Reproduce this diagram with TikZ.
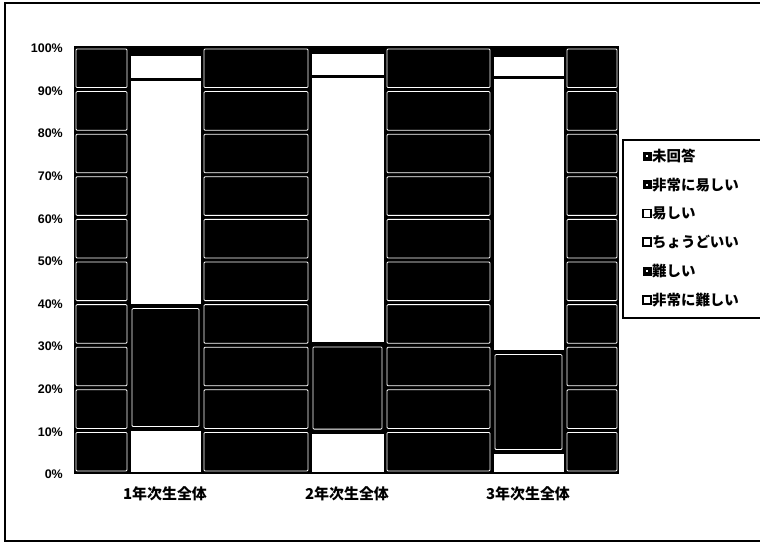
\documentclass[tikz,border=0pt]{standalone}
\usepackage{fontspec}
\setmainfont{Liberation Sans}
\newfontfamily\jp{Noto Sans CJK JP}
\newcommand{\tilecol}[2]{%
  \foreach \k in {0,...,9}{%
    \draw[tile] ({#1+2},{473-4.26*(\k+1)*10+2}) rectangle ({#2-2},{473-4.26*\k*10-2});
  }}
\newcommand{\wseg}[4]{\fill[white] ({#1+1.5},{473-4.26*#4+1.5}) rectangle ({#2-1.5},{473-4.26*#3-1.5});}
\newcommand{\bseg}[4]{\draw[white,line width=0.8bp,rounded corners=1bp] ({#1+3},{473-4.26*#4+3}) rectangle ({#2-3},{473-4.26*#3-3});}
\begin{document}
\begin{tikzpicture}[x=1bp,y=-1bp,
  tile/.style={draw=white,fill=black,line width=0.8bp,rounded corners=1bp},
  ylab/.style={anchor=east,font=\fontsize{12.5}{13}\selectfont\bfseries,inner sep=0pt},
  catlab/.style={font=\jp\fontsize{15}{16}\selectfont\bfseries,inner sep=0pt},
  leglab/.style={anchor=west,font=\jp\fontsize{14.5}{15}\selectfont\bfseries,inner sep=0pt},
  legblack/.style={fill=black,draw=black,line width=0.8bp},
  legwhite/.style={fill=white,draw=black,line width=1.8bp}]
\useasboundingbox (0,0) rectangle (760,543);
\clip (0,0) rectangle (760,543);
\fill[white] (0,0) rectangle (760,543);
% outer frame
\draw[line width=1.2bp] (5,3) rectangle (790,541);
% plot area
\fill[black] (74,46) rectangle (619,474);
\tilecol{74}{129}
\tilecol{202}{310}
\tilecol{385}{492}
\tilecol{565}{619}
% bar 1
\wseg{129}{202}{0}{10.2}
\bseg{129}{202}{10.2}{39.3}
\wseg{129}{202}{39.3}{92.3}
\wseg{129}{202}{92.3}{98.2}
% bar 2
\wseg{310}{385}{0}{9.6}
\bseg{310}{385}{9.6}{30.3}
\wseg{310}{385}{30.3}{93}
\wseg{310}{385}{93}{98.6}
% bar 3
\wseg{492}{565}{0}{4.8}
\bseg{492}{565}{4.8}{28.5}
\wseg{492}{565}{28.5}{92.8}
\wseg{492}{565}{92.8}{98}
% y axis labels
\foreach \p in {0,10,...,100}{
  \node[ylab] (y\p) at (63,{473-4.26*\p+1.5}) {\p\%};
}
% category labels
\node[catlab] (c1) at (165,494) {1年次生全体};
\node[catlab] (c2) at (347,494) {2年次生全体};
\node[catlab] (c3) at (528,494) {3年次生全体};
% legend
\draw[line width=1.2bp,fill=white] (623,140) rectangle (790,318);
\foreach \i/\t/\s in {0/未回答/legblack,1/非常に易しい/legblack,2/易しい/legwhite,3/ちょうどいい/legwhite,4/難しい/legblack,5/非常に難しい/legwhite}{
  \draw[\s] (643,{156+28.8*\i-4}) rectangle (651,{156+28.8*\i+4});
  \node[leglab] (l\i) at (652,{156+28.8*\i}) {\t};
}
\foreach \i in {0,1,4}{
  \fill[white] (646.3,{156+28.8*\i-0.8}) rectangle (647.7,{156+28.8*\i+0.8});
}
\end{tikzpicture}
\end{document}
